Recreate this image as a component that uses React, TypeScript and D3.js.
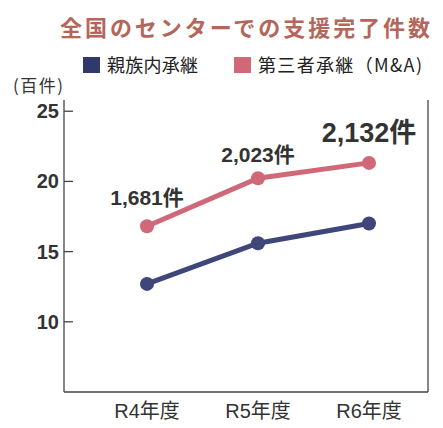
import React from "react";
import * as d3 from "d3";

// 単位: 百件
const years = ["R4年度", "R5年度", "R6年度"];
const familyValues = [12.7, 15.6, 17.0];
const thirdPartyValues = [16.81, 20.23, 21.32];
const thirdPartyLabels = ["1,681件", "2,023件", "2,132件"];
const yTicks = [10, 15, 20, 25];
const seriesNames = ["親族内承継", "第三者承継（M&A)"];

const W = 443;
const H = 428;
const BLUE = "#3f477a";
const PINK = "#d06878";
const TEXT = "#333";
const NUM_FONT = "'Liberation Sans', Arial, 'Noto Sans CJK JP', sans-serif";
const JP_FONT = "'Noto Sans CJK JP', 'Liberation Sans', sans-serif";

export default function App() {
  const left = 64;
  const right = 428;
  const top = 100;
  const bottom = 392;

  const x = d3.scalePoint<string>().domain(years).range([147, 369]);
  const y = d3.scaleLinear().domain([5, 25.8]).range([bottom, top]);

  const line = d3
    .line<number>()
    .x((_, i) => x(years[i]) as number)
    .y((d) => y(d));

  const series = [
    { values: familyValues, color: BLUE },
    { values: thirdPartyValues, color: PINK },
  ];

  // label sizes / offsets above the pink points
  const labelSize = [21, 21, 27];
  const labelDy = [-21, -16, -21];

  return (
    <svg
      width={W}
      height={H}
      style={{ display: "block", position: "absolute", left: 0, top: 0 }}
    >
      <rect width={W} height={H} fill="#fff" />

      {/* title */}
      <text
        x={60}
        y={36}
        fontFamily={JP_FONT}
        fontWeight="bold"
        fontSize={22}
        fill="#b5665a"
        textLength={370}
        lengthAdjust="spacing"
      >
        全国のセンターでの支援完了件数
      </text>

      {/* legend */}
      <rect x={83} y={57} width={17} height={16} fill="#2f3a6b" />
      <text
        x={107}
        y={72}
        fontFamily={JP_FONT}
        fontSize={18}
        fill="#222"
        textLength={91}
        lengthAdjust="spacing"
      >
        {seriesNames[0]}
      </text>
      <rect x={234} y={57} width={17} height={16} fill={PINK} />
      <text
        x={258}
        y={72}
        fontFamily={JP_FONT}
        fontSize={18}
        fill="#222"
        textLength={164}
        lengthAdjust="spacing"
      >
        {seriesNames[1]}
      </text>

      {/* unit */}
      <text
        x={13}
        y={92}
        fontFamily={JP_FONT}
        fontSize={17}
        fill={TEXT}
        textLength={50}
        lengthAdjust="spacing"
      >
        (百件)
      </text>

      {/* frame */}
      <g stroke="#444" strokeWidth={1.3} fill="none">
        <line x1={left} x2={left} y1={top} y2={bottom} />
        <line x1={left} x2={right} y1={bottom} y2={bottom} />
        <line x1={right} x2={right} y1={top} y2={bottom} />
      </g>

      {/* y ticks */}
      {yTicks.map((t) => (
        <g key={t}>
          <line
            x1={left}
            x2={left + 9}
            y1={y(t)}
            y2={y(t)}
            stroke="#444"
            strokeWidth={1.3}
          />
          <text
            x={59}
            y={y(t) + 7}
            textAnchor="end"
            fontFamily={NUM_FONT}
            fontWeight="bold"
            fontSize={20}
            fill={TEXT}
          >
            {t}
          </text>
        </g>
      ))}

      {/* x labels */}
      {years.map((yr) => (
        <text
          key={yr}
          x={x(yr)}
          y={418}
          textAnchor="middle"
          fontFamily={NUM_FONT}
          fontSize={20}
          fill={TEXT}
        >
          {yr}
        </text>
      ))}

      {/* lines */}
      {series.map((s, si) => (
        <g key={si}>
          <path
            d={line(s.values) ?? ""}
            fill="none"
            stroke={s.color}
            strokeWidth={5}
          />
          {s.values.map((v, i) => (
            <circle
              key={i}
              cx={x(years[i])}
              cy={y(v)}
              r={7}
              fill={s.color}
            />
          ))}
        </g>
      ))}

      {/* value labels */}
      {thirdPartyLabels.map((lbl, i) => (
        <text
          key={lbl}
          x={x(years[i])}
          y={y(thirdPartyValues[i]) + labelDy[i]}
          textAnchor="middle"
          fontFamily={NUM_FONT}
          fontWeight="bold"
          fontSize={labelSize[i]}
          fill={TEXT}
        >
          {lbl}
        </text>
      ))}
    </svg>
  );
}
